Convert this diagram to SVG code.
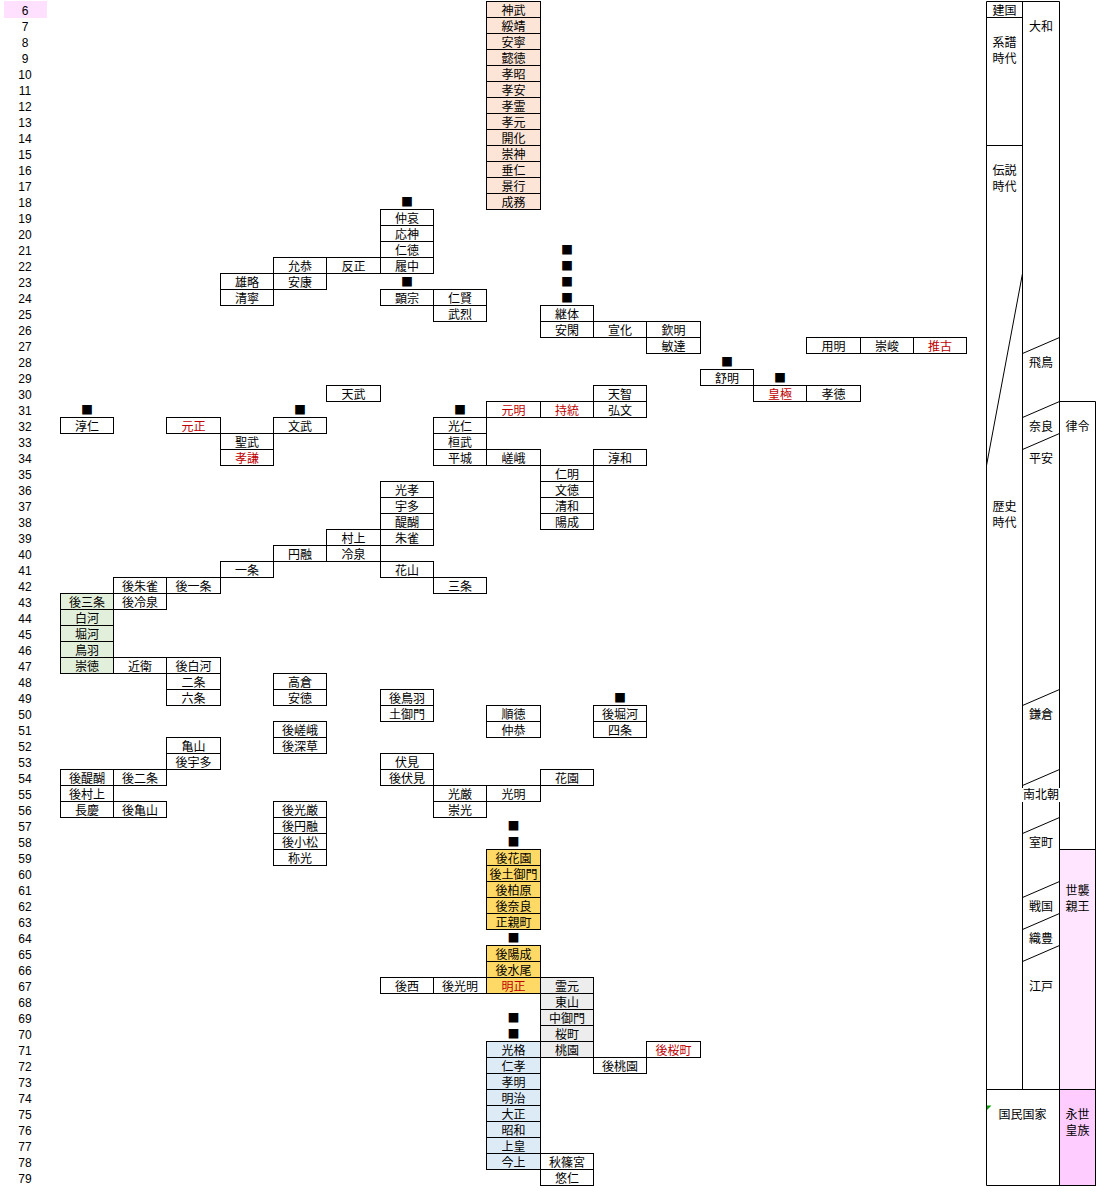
<svg xmlns="http://www.w3.org/2000/svg" width="1109" height="1200" viewBox="0 0 1109 1200">
<style>
text{font-family:"Noto Sans CJK JP","Noto Sans CJK SC",sans-serif;font-size:12px;fill:#000;text-anchor:middle}
.node rect{fill:#fff;stroke:#000;stroke-width:1}
.p rect{fill:#FCE4D6}.g rect{fill:#E2EFDA}.o rect{fill:#FFD966}.y rect{fill:#EDEDED}.b rect{fill:#DDEBF7}
.r text{fill:#C00000}
.num{font-family:"Liberation Sans",sans-serif;font-size:12px}
.m{font-size:12px}
.tl line,.tl rect{stroke:#000;stroke-width:1}
.tl rect{fill:none}
</style>
<rect width="1109" height="1200" fill="#fff"/>
<rect x="4" y="1" width="43" height="17" fill="#FFE0FF"/>
<g id="rownums" class="num" transform="translate(0,1)">
<text class="num" x="25" y="14">6</text><text class="num" x="25" y="30">7</text><text class="num" x="25" y="46">8</text><text class="num" x="25" y="62">9</text><text class="num" x="25" y="78">10</text><text class="num" x="25" y="94">11</text><text class="num" x="25" y="110">12</text><text class="num" x="25" y="126">13</text><text class="num" x="25" y="142">14</text><text class="num" x="25" y="158">15</text><text class="num" x="25" y="174">16</text><text class="num" x="25" y="190">17</text><text class="num" x="25" y="206">18</text><text class="num" x="25" y="222">19</text><text class="num" x="25" y="238">20</text><text class="num" x="25" y="254">21</text><text class="num" x="25" y="270">22</text><text class="num" x="25" y="286">23</text><text class="num" x="25" y="302">24</text><text class="num" x="25" y="318">25</text><text class="num" x="25" y="334">26</text><text class="num" x="25" y="350">27</text><text class="num" x="25" y="366">28</text><text class="num" x="25" y="382">29</text><text class="num" x="25" y="398">30</text><text class="num" x="25" y="414">31</text><text class="num" x="25" y="430">32</text><text class="num" x="25" y="446">33</text><text class="num" x="25" y="462">34</text><text class="num" x="25" y="478">35</text><text class="num" x="25" y="494">36</text><text class="num" x="25" y="510">37</text><text class="num" x="25" y="526">38</text><text class="num" x="25" y="542">39</text><text class="num" x="25" y="558">40</text><text class="num" x="25" y="574">41</text><text class="num" x="25" y="590">42</text><text class="num" x="25" y="606">43</text><text class="num" x="25" y="622">44</text><text class="num" x="25" y="638">45</text><text class="num" x="25" y="654">46</text><text class="num" x="25" y="670">47</text><text class="num" x="25" y="686">48</text><text class="num" x="25" y="702">49</text><text class="num" x="25" y="718">50</text><text class="num" x="25" y="734">51</text><text class="num" x="25" y="750">52</text><text class="num" x="25" y="766">53</text><text class="num" x="25" y="782">54</text><text class="num" x="25" y="798">55</text><text class="num" x="25" y="814">56</text><text class="num" x="25" y="830">57</text><text class="num" x="25" y="846">58</text><text class="num" x="25" y="862">59</text><text class="num" x="25" y="878">60</text><text class="num" x="25" y="894">61</text><text class="num" x="25" y="910">62</text><text class="num" x="25" y="926">63</text><text class="num" x="25" y="942">64</text><text class="num" x="25" y="958">65</text><text class="num" x="25" y="974">66</text><text class="num" x="25" y="990">67</text><text class="num" x="25" y="1006">68</text><text class="num" x="25" y="1022">69</text><text class="num" x="25" y="1038">70</text><text class="num" x="25" y="1054">71</text><text class="num" x="25" y="1070">72</text><text class="num" x="25" y="1086">73</text><text class="num" x="25" y="1102">74</text><text class="num" x="25" y="1118">75</text><text class="num" x="25" y="1134">76</text><text class="num" x="25" y="1150">77</text><text class="num" x="25" y="1166">78</text><text class="num" x="25" y="1182">79</text>
</g>
<g id="connectors"></g>
<g id="markers" transform="translate(0,1)">
<text class="m" x="407" y="206">■</text>
<text class="m" x="407" y="286">■</text>
<text class="m" x="567" y="254">■</text>
<text class="m" x="567" y="270">■</text>
<text class="m" x="567" y="286">■</text>
<text class="m" x="567" y="302">■</text>
<text class="m" x="727" y="366">■</text>
<text class="m" x="780" y="382">■</text>
<text class="m" x="87" y="414">■</text>
<text class="m" x="300" y="414">■</text>
<text class="m" x="460" y="414">■</text>
<text class="m" x="620" y="702">■</text>
<text class="m" x="513.5" y="830">■</text>
<text class="m" x="513.5" y="846">■</text>
<text class="m" x="513.5" y="942">■</text>
<text class="m" x="513.5" y="1022">■</text>
<text class="m" x="513.5" y="1038">■</text>
</g>
<g id="nodes">
<g id="n6_8" class="node p" transform="translate(486.5,1.5)"><rect width="54" height="16"/><text x="27" y="13.5">神武</text></g>
<g id="n7_8" class="node p" transform="translate(486.5,17.5)"><rect width="54" height="16"/><text x="27" y="13.5">綏靖</text></g>
<g id="n8_8" class="node p" transform="translate(486.5,33.5)"><rect width="54" height="16"/><text x="27" y="13.5">安寧</text></g>
<g id="n9_8" class="node p" transform="translate(486.5,49.5)"><rect width="54" height="16"/><text x="27" y="13.5">懿徳</text></g>
<g id="n10_8" class="node p" transform="translate(486.5,65.5)"><rect width="54" height="16"/><text x="27" y="13.5">孝昭</text></g>
<g id="n11_8" class="node p" transform="translate(486.5,81.5)"><rect width="54" height="16"/><text x="27" y="13.5">孝安</text></g>
<g id="n12_8" class="node p" transform="translate(486.5,97.5)"><rect width="54" height="16"/><text x="27" y="13.5">孝霊</text></g>
<g id="n13_8" class="node p" transform="translate(486.5,113.5)"><rect width="54" height="16"/><text x="27" y="13.5">孝元</text></g>
<g id="n14_8" class="node p" transform="translate(486.5,129.5)"><rect width="54" height="16"/><text x="27" y="13.5">開化</text></g>
<g id="n15_8" class="node p" transform="translate(486.5,145.5)"><rect width="54" height="16"/><text x="27" y="13.5">崇神</text></g>
<g id="n16_8" class="node p" transform="translate(486.5,161.5)"><rect width="54" height="16"/><text x="27" y="13.5">垂仁</text></g>
<g id="n17_8" class="node p" transform="translate(486.5,177.5)"><rect width="54" height="16"/><text x="27" y="13.5">景行</text></g>
<g id="n18_8" class="node p" transform="translate(486.5,193.5)"><rect width="54" height="16"/><text x="27" y="13.5">成務</text></g>

<g id="n19_6" class="node" transform="translate(380.5,209.5)"><rect width="53" height="16"/><text x="26.5" y="13.5">仲哀</text></g>
<g id="n20_6" class="node" transform="translate(380.5,225.5)"><rect width="53" height="16"/><text x="26.5" y="13.5">応神</text></g>
<g id="n21_6" class="node" transform="translate(380.5,241.5)"><rect width="53" height="16"/><text x="26.5" y="13.5">仁徳</text></g>
<g id="n22_6" class="node" transform="translate(380.5,257.5)"><rect width="53" height="16"/><text x="26.5" y="13.5">履中</text></g>
<g id="n22_5" class="node" transform="translate(326.5,257.5)"><rect width="54" height="16"/><text x="27" y="13.5">反正</text></g>
<g id="n22_4" class="node" transform="translate(273.5,257.5)"><rect width="53" height="16"/><text x="26.5" y="13.5">允恭</text></g>
<g id="n23_4" class="node" transform="translate(273.5,273.5)"><rect width="53" height="16"/><text x="26.5" y="13.5">安康</text></g>
<g id="n23_3" class="node" transform="translate(220.5,273.5)"><rect width="53" height="16"/><text x="26.5" y="13.5">雄略</text></g>
<g id="n24_3" class="node" transform="translate(220.5,289.5)"><rect width="53" height="16"/><text x="26.5" y="13.5">清寧</text></g>
<g id="n24_6" class="node" transform="translate(380.5,289.5)"><rect width="53" height="16"/><text x="26.5" y="13.5">顕宗</text></g>
<g id="n24_7" class="node" transform="translate(433.5,289.5)"><rect width="53" height="16"/><text x="26.5" y="13.5">仁賢</text></g>
<g id="n25_7" class="node" transform="translate(433.5,305.5)"><rect width="53" height="16"/><text x="26.5" y="13.5">武烈</text></g>

<g id="n25_9" class="node" transform="translate(540.5,305.5)"><rect width="53" height="16"/><text x="26.5" y="13.5">継体</text></g>
<g id="n26_9" class="node" transform="translate(540.5,321.5)"><rect width="53" height="16"/><text x="26.5" y="13.5">安閑</text></g>
<g id="n26_10" class="node" transform="translate(593.5,321.5)"><rect width="53" height="16"/><text x="26.5" y="13.5">宣化</text></g>
<g id="n26_11" class="node" transform="translate(646.5,321.5)"><rect width="54" height="16"/><text x="27" y="13.5">欽明</text></g>
<g id="n27_11" class="node" transform="translate(646.5,337.5)"><rect width="54" height="16"/><text x="27" y="13.5">敏達</text></g>
<g id="n27_14" class="node" transform="translate(806.5,337.5)"><rect width="54" height="16"/><text x="27" y="13.5">用明</text></g>
<g id="n27_15" class="node" transform="translate(860.5,337.5)"><rect width="53" height="16"/><text x="26.5" y="13.5">崇峻</text></g>
<g id="n27_16" class="node r" transform="translate(913.5,337.5)"><rect width="53" height="16"/><text x="26.5" y="13.5">推古</text></g>
<g id="n29_12" class="node" transform="translate(700.5,369.5)"><rect width="53" height="16"/><text x="26.5" y="13.5">舒明</text></g>
<g id="n30_13" class="node r" transform="translate(753.5,385.5)"><rect width="53" height="16"/><text x="26.5" y="13.5">皇極</text></g>
<g id="n30_14" class="node" transform="translate(806.5,385.5)"><rect width="54" height="16"/><text x="27" y="13.5">孝徳</text></g>

<g id="n30_5" class="node" transform="translate(326.5,385.5)"><rect width="54" height="16"/><text x="27" y="13.5">天武</text></g>
<g id="n30_10" class="node" transform="translate(593.5,385.5)"><rect width="53" height="16"/><text x="26.5" y="13.5">天智</text></g>
<g id="n31_10" class="node" transform="translate(593.5,401.5)"><rect width="53" height="16"/><text x="26.5" y="13.5">弘文</text></g>
<g id="n31_9" class="node r" transform="translate(540.5,401.5)"><rect width="53" height="16"/><text x="26.5" y="13.5">持統</text></g>
<g id="n31_8" class="node r" transform="translate(486.5,401.5)"><rect width="54" height="16"/><text x="27" y="13.5">元明</text></g>
<g id="n32_7" class="node" transform="translate(433.5,417.5)"><rect width="53" height="16"/><text x="26.5" y="13.5">光仁</text></g>
<g id="n33_7" class="node" transform="translate(433.5,433.5)"><rect width="53" height="16"/><text x="26.5" y="13.5">桓武</text></g>
<g id="n34_7" class="node" transform="translate(433.5,449.5)"><rect width="53" height="16"/><text x="26.5" y="13.5">平城</text></g>
<g id="n34_8" class="node" transform="translate(486.5,449.5)"><rect width="54" height="16"/><text x="27" y="13.5">嵯峨</text></g>
<g id="n34_10" class="node" transform="translate(593.5,449.5)"><rect width="53" height="16"/><text x="26.5" y="13.5">淳和</text></g>
<g id="n35_9" class="node" transform="translate(540.5,465.5)"><rect width="53" height="16"/><text x="26.5" y="13.5">仁明</text></g>
<g id="n36_9" class="node" transform="translate(540.5,481.5)"><rect width="53" height="16"/><text x="26.5" y="13.5">文徳</text></g>
<g id="n37_9" class="node" transform="translate(540.5,497.5)"><rect width="53" height="16"/><text x="26.5" y="13.5">清和</text></g>
<g id="n38_9" class="node" transform="translate(540.5,513.5)"><rect width="53" height="16"/><text x="26.5" y="13.5">陽成</text></g>

<g id="n32_0" class="node" transform="translate(60.5,417.5)"><rect width="53" height="16"/><text x="26.5" y="13.5">淳仁</text></g>
<g id="n32_2" class="node r" transform="translate(166.5,417.5)"><rect width="54" height="16"/><text x="27" y="13.5">元正</text></g>
<g id="n33_3" class="node" transform="translate(220.5,433.5)"><rect width="53" height="16"/><text x="26.5" y="13.5">聖武</text></g>
<g id="n34_3" class="node r" transform="translate(220.5,449.5)"><rect width="53" height="16"/><text x="26.5" y="13.5">孝謙</text></g>
<g id="n32_4" class="node" transform="translate(273.5,417.5)"><rect width="53" height="16"/><text x="26.5" y="13.5">文武</text></g>

<g id="n36_6" class="node" transform="translate(380.5,481.5)"><rect width="53" height="16"/><text x="26.5" y="13.5">光孝</text></g>
<g id="n37_6" class="node" transform="translate(380.5,497.5)"><rect width="53" height="16"/><text x="26.5" y="13.5">宇多</text></g>
<g id="n38_6" class="node" transform="translate(380.5,513.5)"><rect width="53" height="16"/><text x="26.5" y="13.5">醍醐</text></g>
<g id="n39_6" class="node" transform="translate(380.5,529.5)"><rect width="53" height="16"/><text x="26.5" y="13.5">朱雀</text></g>
<g id="n39_5" class="node" transform="translate(326.5,529.5)"><rect width="54" height="16"/><text x="27" y="13.5">村上</text></g>
<g id="n40_5" class="node" transform="translate(326.5,545.5)"><rect width="54" height="16"/><text x="27" y="13.5">冷泉</text></g>
<g id="n40_4" class="node" transform="translate(273.5,545.5)"><rect width="53" height="16"/><text x="26.5" y="13.5">円融</text></g>
<g id="n41_3" class="node" transform="translate(220.5,561.5)"><rect width="53" height="16"/><text x="26.5" y="13.5">一条</text></g>
<g id="n41_6" class="node" transform="translate(380.5,561.5)"><rect width="53" height="16"/><text x="26.5" y="13.5">花山</text></g>
<g id="n42_7" class="node" transform="translate(433.5,577.5)"><rect width="53" height="16"/><text x="26.5" y="13.5">三条</text></g>
<g id="n42_1" class="node" transform="translate(113.5,577.5)"><rect width="53" height="16"/><text x="26.5" y="13.5">後朱雀</text></g>
<g id="n42_2" class="node" transform="translate(166.5,577.5)"><rect width="54" height="16"/><text x="27" y="13.5">後一条</text></g>
<g id="n43_0" class="node g" transform="translate(60.5,593.5)"><rect width="53" height="16"/><text x="26.5" y="13.5">後三条</text></g>
<g id="n43_1" class="node" transform="translate(113.5,593.5)"><rect width="53" height="16"/><text x="26.5" y="13.5">後冷泉</text></g>
<g id="n44_0" class="node g" transform="translate(60.5,609.5)"><rect width="53" height="16"/><text x="26.5" y="13.5">白河</text></g>
<g id="n45_0" class="node g" transform="translate(60.5,625.5)"><rect width="53" height="16"/><text x="26.5" y="13.5">堀河</text></g>
<g id="n46_0" class="node g" transform="translate(60.5,641.5)"><rect width="53" height="16"/><text x="26.5" y="13.5">鳥羽</text></g>
<g id="n47_0" class="node g" transform="translate(60.5,657.5)"><rect width="53" height="16"/><text x="26.5" y="13.5">崇徳</text></g>
<g id="n47_1" class="node" transform="translate(113.5,657.5)"><rect width="53" height="16"/><text x="26.5" y="13.5">近衛</text></g>
<g id="n47_2" class="node" transform="translate(166.5,657.5)"><rect width="54" height="16"/><text x="27" y="13.5">後白河</text></g>
<g id="n48_2" class="node" transform="translate(166.5,673.5)"><rect width="54" height="16"/><text x="27" y="13.5">二条</text></g>
<g id="n49_2" class="node" transform="translate(166.5,689.5)"><rect width="54" height="16"/><text x="27" y="13.5">六条</text></g>
<g id="n48_4" class="node" transform="translate(273.5,673.5)"><rect width="53" height="16"/><text x="26.5" y="13.5">高倉</text></g>
<g id="n49_4" class="node" transform="translate(273.5,689.5)"><rect width="53" height="16"/><text x="26.5" y="13.5">安徳</text></g>

<g id="n49_6" class="node" transform="translate(380.5,689.5)"><rect width="53" height="16"/><text x="26.5" y="13.5">後鳥羽</text></g>
<g id="n50_6" class="node" transform="translate(380.5,705.5)"><rect width="53" height="16"/><text x="26.5" y="13.5">土御門</text></g>
<g id="n50_8" class="node" transform="translate(486.5,705.5)"><rect width="54" height="16"/><text x="27" y="13.5">順徳</text></g>
<g id="n51_8" class="node" transform="translate(486.5,721.5)"><rect width="54" height="16"/><text x="27" y="13.5">仲恭</text></g>
<g id="n50_10" class="node" transform="translate(593.5,705.5)"><rect width="53" height="16"/><text x="26.5" y="13.5">後堀河</text></g>
<g id="n51_10" class="node" transform="translate(593.5,721.5)"><rect width="53" height="16"/><text x="26.5" y="13.5">四条</text></g>
<g id="n51_4" class="node" transform="translate(273.5,721.5)"><rect width="53" height="16"/><text x="26.5" y="13.5">後嵯峨</text></g>
<g id="n52_4" class="node" transform="translate(273.5,737.5)"><rect width="53" height="16"/><text x="26.5" y="13.5">後深草</text></g>
<g id="n52_2" class="node" transform="translate(166.5,737.5)"><rect width="54" height="16"/><text x="27" y="13.5">亀山</text></g>
<g id="n53_2" class="node" transform="translate(166.5,753.5)"><rect width="54" height="16"/><text x="27" y="13.5">後宇多</text></g>
<g id="n54_0" class="node" transform="translate(60.5,769.5)"><rect width="53" height="16"/><text x="26.5" y="13.5">後醍醐</text></g>
<g id="n54_1" class="node" transform="translate(113.5,769.5)"><rect width="53" height="16"/><text x="26.5" y="13.5">後二条</text></g>
<g id="n55_0" class="node" transform="translate(60.5,785.5)"><rect width="53" height="16"/><text x="26.5" y="13.5">後村上</text></g>
<g id="n56_0" class="node" transform="translate(60.5,801.5)"><rect width="53" height="16"/><text x="26.5" y="13.5">長慶</text></g>
<g id="n56_1" class="node" transform="translate(113.5,801.5)"><rect width="53" height="16"/><text x="26.5" y="13.5">後亀山</text></g>
<g id="n53_6" class="node" transform="translate(380.5,753.5)"><rect width="53" height="16"/><text x="26.5" y="13.5">伏見</text></g>
<g id="n54_6" class="node" transform="translate(380.5,769.5)"><rect width="53" height="16"/><text x="26.5" y="13.5">後伏見</text></g>
<g id="n54_9" class="node" transform="translate(540.5,769.5)"><rect width="53" height="16"/><text x="26.5" y="13.5">花園</text></g>
<g id="n55_7" class="node" transform="translate(433.5,785.5)"><rect width="53" height="16"/><text x="26.5" y="13.5">光厳</text></g>
<g id="n55_8" class="node" transform="translate(486.5,785.5)"><rect width="54" height="16"/><text x="27" y="13.5">光明</text></g>
<g id="n56_7" class="node" transform="translate(433.5,801.5)"><rect width="53" height="16"/><text x="26.5" y="13.5">崇光</text></g>
<g id="n56_4" class="node" transform="translate(273.5,801.5)"><rect width="53" height="16"/><text x="26.5" y="13.5">後光厳</text></g>
<g id="n57_4" class="node" transform="translate(273.5,817.5)"><rect width="53" height="16"/><text x="26.5" y="13.5">後円融</text></g>
<g id="n58_4" class="node" transform="translate(273.5,833.5)"><rect width="53" height="16"/><text x="26.5" y="13.5">後小松</text></g>
<g id="n59_4" class="node" transform="translate(273.5,849.5)"><rect width="53" height="16"/><text x="26.5" y="13.5">称光</text></g>

<g id="n59_8" class="node o" transform="translate(486.5,849.5)"><rect width="54" height="16"/><text x="27" y="13.5">後花園</text></g>
<g id="n60_8" class="node o" transform="translate(486.5,865.5)"><rect width="54" height="16"/><text x="27" y="13.5">後土御門</text></g>
<g id="n61_8" class="node o" transform="translate(486.5,881.5)"><rect width="54" height="16"/><text x="27" y="13.5">後柏原</text></g>
<g id="n62_8" class="node o" transform="translate(486.5,897.5)"><rect width="54" height="16"/><text x="27" y="13.5">後奈良</text></g>
<g id="n63_8" class="node o" transform="translate(486.5,913.5)"><rect width="54" height="16"/><text x="27" y="13.5">正親町</text></g>
<g id="n65_8" class="node o" transform="translate(486.5,945.5)"><rect width="54" height="16"/><text x="27" y="13.5">後陽成</text></g>
<g id="n66_8" class="node o" transform="translate(486.5,961.5)"><rect width="54" height="16"/><text x="27" y="13.5">後水尾</text></g>
<g id="n67_8" class="node o r" transform="translate(486.5,977.5)"><rect width="54" height="16"/><text x="27" y="13.5">明正</text></g>
<g id="n67_7" class="node" transform="translate(433.5,977.5)"><rect width="53" height="16"/><text x="26.5" y="13.5">後光明</text></g>
<g id="n67_6" class="node" transform="translate(380.5,977.5)"><rect width="53" height="16"/><text x="26.5" y="13.5">後西</text></g>
<g id="n67_9" class="node y" transform="translate(540.5,977.5)"><rect width="53" height="16"/><text x="26.5" y="13.5">霊元</text></g>
<g id="n68_9" class="node y" transform="translate(540.5,993.5)"><rect width="53" height="16"/><text x="26.5" y="13.5">東山</text></g>
<g id="n69_9" class="node y" transform="translate(540.5,1009.5)"><rect width="53" height="16"/><text x="26.5" y="13.5">中御門</text></g>
<g id="n70_9" class="node y" transform="translate(540.5,1025.5)"><rect width="53" height="16"/><text x="26.5" y="13.5">桜町</text></g>
<g id="n71_9" class="node y" transform="translate(540.5,1041.5)"><rect width="53" height="16"/><text x="26.5" y="13.5">桃園</text></g>
<g id="n71_11" class="node r" transform="translate(646.5,1041.5)"><rect width="54" height="16"/><text x="27" y="13.5">後桜町</text></g>
<g id="n72_10" class="node" transform="translate(593.5,1057.5)"><rect width="53" height="16"/><text x="26.5" y="13.5">後桃園</text></g>
<g id="n71_8" class="node b" transform="translate(486.5,1041.5)"><rect width="54" height="16"/><text x="27" y="13.5">光格</text></g>
<g id="n72_8" class="node b" transform="translate(486.5,1057.5)"><rect width="54" height="16"/><text x="27" y="13.5">仁孝</text></g>
<g id="n73_8" class="node b" transform="translate(486.5,1073.5)"><rect width="54" height="16"/><text x="27" y="13.5">孝明</text></g>
<g id="n74_8" class="node b" transform="translate(486.5,1089.5)"><rect width="54" height="16"/><text x="27" y="13.5">明治</text></g>
<g id="n75_8" class="node b" transform="translate(486.5,1105.5)"><rect width="54" height="16"/><text x="27" y="13.5">大正</text></g>
<g id="n76_8" class="node b" transform="translate(486.5,1121.5)"><rect width="54" height="16"/><text x="27" y="13.5">昭和</text></g>
<g id="n77_8" class="node b" transform="translate(486.5,1137.5)"><rect width="54" height="16"/><text x="27" y="13.5">上皇</text></g>
<g id="n78_8" class="node b" transform="translate(486.5,1153.5)"><rect width="54" height="16"/><text x="27" y="13.5">今上</text></g>
<g id="n78_9" class="node" transform="translate(540.5,1153.5)"><rect width="53" height="16"/><text x="26.5" y="13.5">秋篠宮</text></g>
<g id="n79_9" class="node" transform="translate(540.5,1169.5)"><rect width="53" height="16"/><text x="26.5" y="13.5">悠仁</text></g>
</g>
<g id="timeline" class="tl">
<rect x="1059.5" y="849.5" width="36" height="240" style="fill:#FFE5FF"/>
<rect x="1059.5" y="1089.5" width="36" height="96" style="fill:#FFCCFF"/>
<line x1="986.5" y1="1.5" x2="1059.5" y2="1.5"/>
<line x1="986.5" y1="1.5" x2="986.5" y2="1185.5"/>
<line x1="1022.5" y1="1.5" x2="1022.5" y2="1089.5"/>
<line x1="1059.5" y1="1.5" x2="1059.5" y2="1185.5"/>
<line x1="986.5" y1="17.5" x2="1022.5" y2="17.5"/>
<line x1="986.5" y1="145.5" x2="1022.5" y2="145.5"/>
<line x1="1022.5" y1="273.5" x2="986.5" y2="465.5"/>
<line x1="1059.5" y1="401.5" x2="1095.5" y2="401.5"/>
<line x1="1095.5" y1="401.5" x2="1095.5" y2="1185.5"/>
<line x1="1059.5" y1="849.5" x2="1095.5" y2="849.5"/>
<line x1="986.5" y1="1089.5" x2="1095.5" y2="1089.5"/>
<line x1="986.5" y1="1185.5" x2="1095.5" y2="1185.5"/>
<line x1="1022.5" y1="353.5" x2="1059.5" y2="337.5"/>
<line x1="1022.5" y1="417.5" x2="1059.5" y2="401.5"/>
<line x1="1022.5" y1="449.5" x2="1059.5" y2="433.5"/>
<line x1="1022.5" y1="705.5" x2="1059.5" y2="689.5"/>
<line x1="1022.5" y1="785.5" x2="1059.5" y2="769.5"/>
<line x1="1022.5" y1="833.5" x2="1059.5" y2="817.5"/>
<line x1="1022.5" y1="897.5" x2="1059.5" y2="881.5"/>
<line x1="1022.5" y1="929.5" x2="1059.5" y2="913.5"/>
<line x1="1022.5" y1="961.5" x2="1059.5" y2="945.5"/>
<polygon points="987,1105.5 991.5,1105.5 987,1110" fill="#00A000"/>
<rect x="1021" y="788" width="41" height="14" style="fill:#fff;stroke:none"/>
<g transform="translate(0,1)">
<text x="1004.5" y="14">建国</text>
<text x="1004.5" y="46">系譜</text><text x="1004.5" y="62">時代</text>
<text x="1004.5" y="174">伝説</text><text x="1004.5" y="190">時代</text>
<text x="1004.5" y="510">歴史</text><text x="1004.5" y="526">時代</text>
<text x="1041" y="30">大和</text>
<text x="1041" y="366">飛鳥</text>
<text x="1041" y="430">奈良</text>
<text x="1041" y="462">平安</text>
<text x="1041" y="718">鎌倉</text>
<text x="1041" y="798">南北朝</text>
<text x="1041" y="846">室町</text>
<text x="1041" y="910">戦国</text>
<text x="1041" y="942">織豊</text>
<text x="1041" y="990">江戸</text>
<text x="1077.5" y="430">律令</text>
<text x="1077.5" y="894">世襲</text><text x="1077.5" y="910">親王</text>
<text x="1022.5" y="1118">国民国家</text>
<text x="1077.5" y="1118">永世</text><text x="1077.5" y="1134">皇族</text>
</g>
</g>
</svg>
